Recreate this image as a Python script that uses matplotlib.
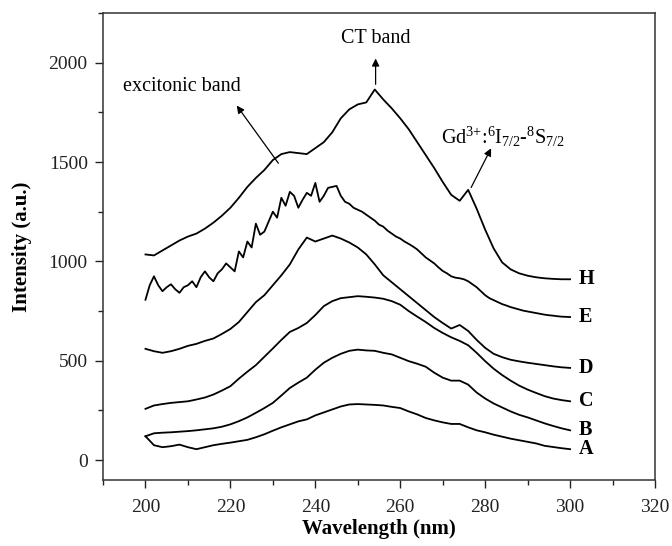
import matplotlib
matplotlib.use("Agg")
import matplotlib.pyplot as plt
import numpy as np

plt.rcParams['font.family'] = ['Liberation Serif', 'DejaVu Serif']
plt.rcParams['mathtext.fontset'] = 'custom'
plt.rcParams['mathtext.rm'] = 'Liberation Serif'
plt.rcParams['mathtext.it'] = 'Liberation Serif:italic'
plt.rcParams['mathtext.bf'] = 'Liberation Serif:bold'

wl2 = list(range(200, 301, 2))
wl1 = list(range(200, 301, 1))

H = [1035, 1030, 1055, 1080, 1105, 1125, 1140, 1165, 1195, 1230,
     1270, 1320, 1375, 1420, 1460, 1510, 1540, 1550, 1545, 1540,
     1570, 1600, 1650, 1720, 1765, 1790, 1800, 1865, 1815, 1770,
     1720, 1665, 1600, 1535, 1470, 1400, 1335, 1305, 1360, 1265,
     1160, 1065, 995, 960, 940, 928, 920, 915, 912, 910, 910]

E = [807, 880, 925, 880, 850, 870, 885, 860, 842, 870,
     880, 900, 870, 920, 950, 920, 900, 940, 960, 990,
     970, 950, 1050, 1020, 1100, 1070, 1190, 1134, 1150, 1200,
     1250, 1220, 1320, 1280, 1350, 1330, 1270, 1310, 1345, 1330,
     1395, 1300, 1330, 1370, 1375, 1380, 1330, 1300, 1290, 1270,
     1260, 1250, 1235, 1220, 1205, 1185, 1175, 1155, 1140, 1125,
     1115, 1100, 1088, 1075, 1060, 1040, 1020, 1005, 990, 970,
     952, 940, 925, 918, 915, 910, 900, 885, 870, 850,
     830, 815, 805, 795, 785, 778, 770, 764, 758, 752,
     748, 744, 740, 736, 732, 729, 727, 724, 722, 721, 720]

D = [560, 548, 540, 548, 560, 575, 585, 600, 612, 635,
     660, 695, 745, 795, 830, 880, 930, 985, 1060, 1120,
     1100, 1115, 1130, 1115, 1095, 1070, 1035, 985, 930, 895,
     860, 825, 790, 755, 720, 690, 662, 680, 650, 605,
     565, 535, 518, 505, 497, 490, 484, 478, 472, 467, 464]

C = [258, 275, 282, 288, 292, 296, 305, 315, 330, 350,
     372, 410, 445, 478, 520, 562, 605, 645, 665, 690,
     730, 775, 800, 815, 820, 825, 822, 818, 812, 800,
     782, 750, 722, 695, 665, 640, 618, 600, 578, 540,
     498, 460, 428, 400, 375, 355, 338, 322, 310, 302, 296]

B = [120, 135, 138, 140, 143, 146, 150, 155, 160, 168,
     180, 196, 215, 238, 262, 288, 325, 363, 390, 415,
     455, 490, 515, 535, 550, 556, 552, 550, 540, 532,
     515, 498, 485, 470, 440, 415, 400, 400, 380, 340,
     310, 285, 265, 245, 228, 215, 200, 185, 172, 160, 150]

A = [120, 75, 65, 70, 78, 65, 55, 65, 75, 82,
     88, 95, 102, 115, 130, 148, 165, 180, 195, 205,
     225, 240, 255, 270, 280, 282, 280, 278, 275, 268,
     262, 245, 230, 212, 200, 190, 182, 182, 165, 150,
     140, 128, 118, 108, 100, 92, 84, 72, 66, 60, 55]

series = [("H", wl2, H), ("E", wl1, E), ("D", wl2, D),
          ("C", wl2, C), ("B", wl2, B), ("A", wl2, A)]

fig = plt.figure(figsize=(6.72, 5.46), dpi=100)
ax = fig.add_axes([0.1533, 0.1209, 0.8214, 0.8553])

for name, x, y in series:
    ax.plot(x, y, color='black', lw=1.3)
    ax.text(302, y[-1], name, fontsize=14.5, fontweight='bold',
            ha='left', va='center')

ax.set_xlim(190, 320)
ax.set_ylim(-100, 2250)
ax.set_xticks([200, 220, 240, 260, 280, 300, 320])
ax.set_xticks(np.arange(190, 321, 10), minor=True)
ax.set_yticks([0, 500, 1000, 1500, 2000])
ax.set_yticks(np.arange(0, 2251, 250), minor=True)
ax.tick_params(which='major', direction='out', length=6, width=1, labelsize=14, colors='#222222')
ax.tick_params(which='minor', direction='out', length=3.5, width=1, colors='#222222')
ax.tick_params(axis='x', which='major', pad=8)
ax.tick_params(axis='y', which='major', pad=5)
for s in ax.spines.values():
    s.set_linewidth(1.1)
    s.set_color('#333333')

ax.set_xlabel('Wavelength (nm)', fontsize=15, fontweight='bold', labelpad=2)
ax.set_ylabel('Intensity (a.u.)', fontsize=15, fontweight='bold', labelpad=12)

arrow = dict(arrowstyle='-|>', lw=0.9, color='black', mutation_scale=11, shrinkA=0, shrinkB=0)
ax.text(208.5, 1880, 'excitonic band', fontsize=14.5, ha='center', va='center')
ax.annotate('', xy=(221.5, 1784), xytext=(231.3, 1494), arrowprops=arrow)
ax.text(254.2, 2120, 'CT band', fontsize=14.5, ha='center', va='center')
ax.annotate('', xy=(254.2, 2021), xytext=(254.2, 1891), arrowprops=arrow)
ax.text(269.6, 1593, r'Gd$^{3{+}}$:$^{6}$I$_{7/2}$-$^{8}$S$_{7/2}$', fontsize=14.5,
        ha='left', va='baseline')
ax.annotate('', xy=(281.4, 1569), xytext=(276.7, 1372), arrowprops=arrow)

fig.savefig('out.png', dpi=100)
